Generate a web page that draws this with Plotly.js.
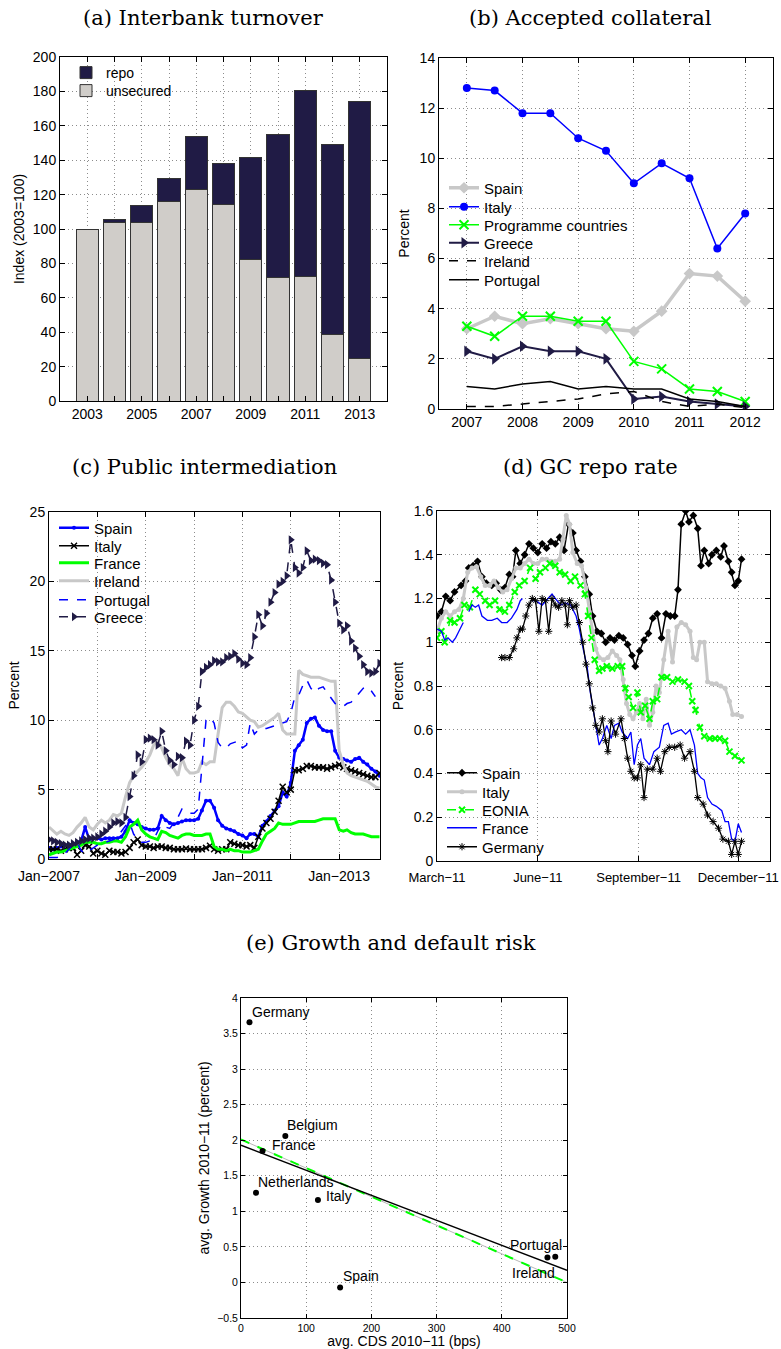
<!DOCTYPE html>
<html>
<head>
<meta charset="utf-8">
<script src="https://cdn.plot.ly/plotly-3.0.1.min.js"></script>
<style>html,body{margin:0;padding:0;background:#fff;}#chart{width:781px;height:1349px;}</style>
</head>
<body>
<div id="chart"></div>
<script>
// ---------- (a) Interbank turnover ----------
const turnoverYears = [2003,2004,2005,2006,2007,2008,2009,2010,2011,2012,2013];
const unsecured = [100,104,104,116,123,114.5,82,72,72.5,38.5,25];
const repo = [0,1.5,9.5,13.5,30.5,23.5,59.5,83,108,110.5,149];
const turnoverTickLabels = ['2003','','2005','','2007','','2009','','2011','','2013'];

// ---------- (b) Accepted collateral ----------
const collYears = [2007,2007.5,2008,2008.5,2009,2009.5,2010,2010.5,2011,2011.5,2012];
const collSpain = [3.2,3.7,3.4,3.6,3.4,3.2,3.1,3.9,5.4,5.3,4.3];
const collItaly = [12.8,12.7,11.8,11.8,10.8,10.3,9.0,9.8,9.2,6.4,7.8];
const collProgramme = [3.3,2.9,3.7,3.7,3.5,3.5,1.9,1.6,0.8,0.7,0.3];
const collGreece = [2.3,2.0,2.5,2.3,2.3,2.0,0.4,0.5,0.3,0.2,0.1];
const collIreland = [0.1,0.1,0.2,0.3,0.4,0.6,0.7,0.3,0.1,0.2,0.05];
const collPortugal = [0.9,0.8,1.0,1.1,0.8,0.9,0.8,0.8,0.4,0.3,0.1];

// ---------- (c) Public intermediation (monthly from Jan 2007) ----------
const pubStartYear = 2007;
const pubSpain = [0.8,0.7,0.8,0.9,1.0,1.0,1.1,1.2,1.3,2.3,1.4,1.5,
  1.5,1.4,1.5,1.5,1.5,1.5,1.6,2.0,2.8,2.6,2.5,2.3,
  2.2,2.1,2.1,2.2,3.1,2.8,2.6,2.5,2.6,2.7,2.8,2.8,
  2.8,2.9,3.5,4.2,4.2,3.7,2.8,2.4,2.2,2.1,2.0,1.8,
  1.7,1.5,1.8,1.8,1.6,2.4,2.7,3.1,3.5,3.8,4.8,4.5,
  5.5,7.8,8.2,8.6,9.8,10.1,10.2,9.6,9.3,9.2,9.2,7.8,
  7.3,7.2,7.1,7.0,7.2,7.3,7.0,6.8,6.5,6.3,6.0];
const pubItaly = [0.7,0.7,0.7,0.6,0.7,0.8,0.8,0.3,0.6,1.0,0.9,0.4,
  0.6,0.4,0.3,0.6,0.5,0.5,0.4,0.5,0.8,1.2,1.4,1.0,
  0.9,0.9,0.8,0.9,0.9,0.8,0.8,0.7,0.7,0.7,0.75,0.7,
  0.7,0.7,0.7,0.8,0.95,0.7,0.6,0.7,0.7,1.2,1.1,1.0,
  1.0,0.9,1.0,0.8,1.6,2.2,2.6,2.9,3.4,4.2,5.2,4.8,
  5.0,6.4,6.4,6.5,6.7,6.7,6.6,6.6,6.6,6.5,6.6,6.7,
  6.8,6.6,6.5,6.4,6.3,6.2,6.1,6.0,5.9,5.9,6.2];
const pubFrance = [0.3,0.4,0.5,0.5,0.6,0.7,0.8,0.9,1.0,1.2,1.2,1.2,
  1.1,1.1,1.2,1.2,1.3,1.3,1.2,1.6,2.3,2.5,2.8,2.1,
  1.8,1.6,1.5,1.4,2.0,1.9,1.7,1.6,1.5,1.7,1.8,1.8,
  1.7,1.7,1.7,1.8,1.8,0.9,0.7,0.7,0.6,0.7,0.6,0.6,
  0.5,0.5,0.5,0.6,0.7,1.3,1.8,2.0,2.2,2.6,2.5,2.5,
  2.5,2.6,2.7,2.7,2.7,2.7,2.7,2.8,2.9,2.9,2.9,2.9,
  2.1,2.0,2.1,1.9,1.8,1.8,1.8,1.7,1.6,1.6,1.6];
const pubIreland = [2.3,2.0,1.8,2.0,1.8,1.7,1.9,2.3,2.6,3.0,2.3,2.1,
  2.5,2.8,2.6,2.8,3.2,3.1,3.3,4.5,5.5,6.0,6.3,6.6,
  7.0,7.5,8.2,8.5,8.0,7.3,6.8,6.5,6.0,7.3,6.5,6.2,
  6.2,6.3,7.0,6.8,7.0,7.0,9.0,10.9,11.3,11.3,11.0,10.6,
  10.5,10.2,10.0,9.9,9.5,9.6,9.8,10.0,10.2,10.5,9.3,9.0,
  9.0,9.0,13.6,13.3,13.2,13.1,13.1,13.1,13.0,12.9,12.8,12.8,
  7.8,6.8,6.2,6.0,5.9,5.8,5.7,5.6,5.4,5.2,5.1];
const pubPortugal = [0.1,0.1,0.1,0.2,0.4,0.7,1.0,1.2,0.6,0.4,0.6,0.8,
  1.0,1.1,1.2,1.3,1.4,1.6,2.0,2.4,2.6,1.8,1.4,1.2,
  1.2,1.3,1.4,2.0,2.5,2.3,2.2,2.6,3.0,3.6,3.4,3.3,
  3.3,3.6,6.6,10.0,10.2,9.8,8.4,8.0,8.0,8.3,8.4,8.5,
  8.0,8.2,9.8,9.0,9.3,9.4,9.4,9.5,9.6,9.7,9.8,9.9,
  10.5,11.7,11.8,12.5,12.9,12.3,12.0,12.3,12.4,12.0,11.6,11.2,
  11.1,11.0,11.2,11.3,11.6,12.0,12.3,12.4,12.1,11.7];
const pubGreece = [1.4,1.3,1.2,1.1,1.0,1.0,1.1,1.2,1.3,1.4,1.5,1.5,
  1.6,1.8,2.0,2.3,2.6,2.7,2.6,3.0,4.5,6.0,7.5,7.0,
  8.6,8.7,8.6,8.2,9.2,7.8,7.1,6.8,7.4,7.3,8.5,8.2,
  10.0,11.0,13.5,13.8,14.0,14.3,14.2,14.2,14.5,14.6,14.8,14.4,
  14.1,14.0,14.5,16.0,17.6,16.8,17.7,18.5,19.2,19.8,20.0,20.4,
  23.0,21.0,20.6,21.0,22.2,21.5,21.6,21.5,21.3,21.2,20.1,18.5,
  17.0,16.5,16.8,15.7,15.2,14.6,14.0,13.5,13.4,13.5,14.1];
const pubTickVals = ['2007-01-01','2008-01-01','2009-01-01','2010-01-01','2011-01-01','2012-01-01','2013-01-01'];
const pubTickText = ['Jan\u22122007','','Jan\u22122009','','Jan\u22122011','','Jan\u22122013'];

// ---------- (d) GC repo rate (days since 1 March 2011) ----------
const repoSpainDays = [0,4,8,12,16,22,26,29,33,37,41,45,50,54,58,62,66,69,72,76,80,84,88,92,96,100,104,108,112,116,120,124,127,131,135,139,142,146,150,154,158,162,166,170,174,178,181,185,189,193,197,201,205,209,213,217,220,223,227,230,234,238,241,244,248,251,255,259,262,266,269,272,275,278];
const repoSpain = [1.12,1.14,1.21,1.19,1.23,1.26,1.28,1.34,1.35,1.37,1.30,1.27,1.26,1.27,1.24,1.25,1.31,1.30,1.42,1.36,1.40,1.45,1.43,1.41,1.45,1.43,1.46,1.45,1.48,1.42,1.54,1.50,1.42,1.37,1.30,1.22,1.12,1.05,1.04,1.00,1.02,1.01,1.03,1.02,0.99,0.94,0.89,0.96,1.01,1.04,1.11,1.13,1.02,1.13,1.12,1.12,1.24,1.54,1.60,1.55,1.58,1.52,1.35,1.42,1.36,1.40,1.42,1.39,1.44,1.37,1.32,1.26,1.28,1.38];
const repoItalyDays = [0,4,8,12,16,20,24,28,32,36,40,44,48,52,56,60,64,68,72,76,80,84,88,92,96,100,104,108,112,115,118,121,124,128,132,136,139,142,145,148,152,156,160,164,167,170,173,176,179,182,185,188,191,194,197,200,203,207,211,215,219,223,227,231,234,237,240,244,247,251,255,259,263,267,270,274,278];
const repoItaly = [1.05,1.11,1.14,1.12,1.14,1.15,1.20,1.32,1.34,1.345,1.30,1.26,1.26,1.28,1.25,1.23,1.24,1.29,1.34,1.34,1.36,1.38,1.36,1.36,1.38,1.38,1.37,1.37,1.38,1.47,1.58,1.54,1.41,1.36,1.35,1.25,1.14,1.05,0.97,0.93,0.92,0.93,0.96,0.94,0.92,0.83,0.72,0.67,0.65,0.68,0.72,0.65,0.74,0.62,0.68,0.80,0.77,0.92,1.05,0.91,1.07,1.09,1.08,1.05,0.93,0.92,1.00,1.00,0.82,0.81,0.81,0.80,0.79,0.73,0.67,0.67,0.66];
const repoEoniaDays = [0,4,7,12,16,21,25,30,35,39,44,48,53,57,62,66,71,75,80,85,90,94,99,103,108,112,117,122,126,131,135,138,141,144,148,151,155,160,165,169,172,175,179,183,186,190,194,197,201,205,210,215,220,226,230,233,236,240,244,249,254,258,263,267,272,278];
const repoEonia = [1.02,1.05,1.00,1.10,1.09,1.11,1.17,1.16,1.24,1.22,1.19,1.17,1.19,1.15,1.14,1.17,1.23,1.26,1.28,1.34,1.29,1.32,1.34,1.36,1.35,1.32,1.31,1.28,1.30,1.26,1.22,1.12,1.02,0.92,0.87,0.88,0.89,0.88,0.89,0.89,0.79,0.75,0.70,0.77,0.68,0.71,0.65,0.73,0.74,0.84,0.84,0.82,0.83,0.82,0.80,0.73,0.69,0.61,0.57,0.56,0.56,0.56,0.55,0.50,0.48,0.46];
const repoFranceDays = [0,4,7,10,14,17,20,24,26,29,32,35,38,41,46,50,55,59,64,68,73,76,78,82,86,90,96,101,105,108,113,117,122,127,130,133,137,140,143,146,148,151,155,159,162,166,169,174,177,180,183,186,189,194,198,203,207,211,214,218,223,227,231,235,238,241,244,247,251,255,260,263,266,269,272,275,278];
const repoFrance = [1.06,1.05,1.01,1.02,1.00,1.02,1.05,1.09,null,1.14,1.17,1.16,1.17,1.12,1.10,1.10,1.11,1.09,1.09,1.11,1.15,1.19,1.20,null,1.19,1.19,1.17,1.20,1.22,1.20,1.17,1.18,1.17,1.12,1.06,0.98,0.89,0.77,0.68,0.59,0.53,0.56,0.62,0.56,0.62,0.63,0.59,0.56,0.59,0.44,0.53,0.56,0.47,0.44,0.50,0.52,0.62,0.63,0.58,0.59,0.60,0.58,0.60,0.53,0.40,0.38,0.37,0.29,0.26,0.25,0.23,0.18,0.18,0.10,0.09,0.17,0.13];
const repoGermanyDays = [59,62,66,70,73,76,78,81,84,87,90,93,96,99,102,105,108,111,114,117,119,121,124,127,130,133,136,139,142,145,148,151,154,156,159,163,168,171,174,177,180,183,186,189,192,197,201,204,208,212,217,222,226,231,235,238,243,247,252,257,261,266,269,272,275,278];
const repoGermany = [0.93,0.93,0.93,0.97,1.02,1.06,1.06,1.12,1.17,1.20,1.19,1.05,1.20,1.19,1.05,1.20,1.17,1.16,1.19,1.17,1.08,1.19,1.16,1.17,1.09,1.00,0.90,0.81,0.70,0.62,0.59,0.65,0.55,0.50,0.64,0.58,0.65,0.56,0.47,0.41,0.38,0.38,0.44,0.29,0.42,0.42,0.47,0.41,0.50,0.52,0.52,0.53,0.47,0.50,0.41,0.29,0.26,0.21,0.18,0.15,0.10,0.09,0.03,0.09,0.03,0.09];
const repoTickVals = ['2011-03-01','2011-06-01','2011-09-01','2011-12-01'];
const repoTickText = ['March\u221211','June\u221211','September\u221211','December\u221211'];

// ---------- (e) Growth and default risk ----------
const cdsCountries = ['Germany','Belgium','France','Netherlands','Italy','Spain','Portugal','Ireland'];
const cdsValues = [13,68,33,23,118,152,470,482];
const growthValues = [3.66,2.06,1.85,1.26,1.16,-0.07,0.35,0.36];
const fitX = [0,500];
const fitBlack = [1.93,0.17];
const fitGreen = [2.01,0.0];

// ---------- helpers ----------
function monthDates(startYear, n){
  const out=[];
  for(let i=0;i<n;i++){const y=startYear+Math.floor(i/12), m=i%12+1; out.push(y+'-'+String(m).padStart(2,'0')+'-01');}
  return out;
}
function dayDates(days){
  return days.map(d=>new Date(Date.UTC(2011,2,1+d)).toISOString().slice(0,10));
}

const W=781,H=1349;
const px=v=>v/W, py=v=>1-v/H;

const NAVY='#201b45', GRAY='#c8c8c8', BLUE='#0000ff', GREEN='#00ff00';
const FONT='Liberation Sans, Arial, Helvetica, sans-serif';
const SERIF='DejaVu Serif, Liberation Serif, serif';
const GRIDDASH='1px,3px';

function axisBase(extra){
  return Object.assign({
    showline:true, linecolor:'#000', linewidth:1, mirror:'ticks',
    ticks:'inside', ticklen:5, tickcolor:'#000', tickwidth:1,
    showgrid:true, gridcolor:'#8c8c8c', griddash:GRIDDASH, gridwidth:1,
    zeroline:false, tickfont:{family:FONT,size:14,color:'#000'},
    fixedrange:true
  }, extra);
}

// one legend per entry so rows can sit at the reference spacing
const layoutLegends={};
let legendCount=0;
function legendAt(x,y,size){
  legendCount++;
  const key = legendCount===1 ? 'legend' : 'legend'+legendCount;
  layoutLegends[key]={x:px(x),y:py(y),xanchor:'left',yanchor:'middle',bgcolor:'rgba(0,0,0,0)',borderwidth:0,
    font:{family:FONT,size:size||15,color:'#000'},itemwidth:30};
  return key;
}

const traces=[];
// (a)
traces.push({type:'bar', x:turnoverYears, y:unsecured, name:'unsecured', xaxis:'x', yaxis:'y',
  marker:{color:'#d0cdc9', line:{color:'#333',width:1}}, width:0.82, legend:legendAt(66,91,14)});
traces.push({type:'bar', x:turnoverYears, y:repo, name:'repo', xaxis:'x', yaxis:'y',
  marker:{color:NAVY, line:{color:'#333',width:1}}, width:0.82, legend:legendAt(66,73,14)});

// (b)
const bx=444;
traces.push({type:'scatter',mode:'lines+markers',x:collYears,y:collSpain,name:'Spain',xaxis:'x2',yaxis:'y2',legend:legendAt(bx,188),
  line:{color:GRAY,width:3.5},marker:{symbol:'diamond',size:9,color:GRAY}});
traces.push({type:'scatter',mode:'lines+markers',x:collYears,y:collItaly,name:'Italy',xaxis:'x2',yaxis:'y2',legend:legendAt(bx,207),
  line:{color:BLUE,width:1.5},marker:{symbol:'circle',size:8,color:BLUE}});
traces.push({type:'scatter',mode:'lines+markers',x:collYears,y:collProgramme,name:'Programme countries',xaxis:'x2',yaxis:'y2',legend:legendAt(bx,225),
  line:{color:GREEN,width:1.5},marker:{symbol:'x-thin-open',size:9,color:GREEN,line:{color:GREEN,width:2}}});
traces.push({type:'scatter',mode:'lines+markers',x:collYears,y:collGreece,name:'Greece',xaxis:'x2',yaxis:'y2',legend:legendAt(bx,243),
  line:{color:NAVY,width:2},marker:{symbol:'triangle-right',size:10,color:NAVY}});
traces.push({type:'scatter',mode:'lines',x:collYears,y:collIreland,name:'Ireland',xaxis:'x2',yaxis:'y2',legend:legendAt(bx,261),
  line:{color:'#000',width:1.5,dash:'dash'}});
traces.push({type:'scatter',mode:'lines',x:collYears,y:collPortugal,name:'Portugal',xaxis:'x2',yaxis:'y2',legend:legendAt(bx,280),
  line:{color:'#000',width:1.5}});

// (c)
const cx=54;
traces.push({type:'scatter',mode:'lines+markers',x:monthDates(pubStartYear,pubSpain.length),y:pubSpain,name:'Spain',xaxis:'x3',yaxis:'y3',legend:legendAt(cx,528),
  line:{color:BLUE,width:2.5},marker:{symbol:'circle',size:4,color:BLUE}});
traces.push({type:'scatter',mode:'lines+markers',x:monthDates(pubStartYear,pubItaly.length),y:pubItaly,name:'Italy',xaxis:'x3',yaxis:'y3',legend:legendAt(cx,546),
  line:{color:'#000',width:1.5},marker:{symbol:'x-thin-open',size:6,color:'#000',line:{color:'#000',width:1.5}}});
traces.push({type:'scatter',mode:'lines',x:monthDates(pubStartYear,pubFrance.length),y:pubFrance,name:'France',xaxis:'x3',yaxis:'y3',legend:legendAt(cx,563),
  line:{color:GREEN,width:3}});
traces.push({type:'scatter',mode:'lines',x:monthDates(pubStartYear,pubIreland.length),y:pubIreland,name:'Ireland',xaxis:'x3',yaxis:'y3',legend:legendAt(cx,581),
  line:{color:GRAY,width:3}});
traces.push({type:'scatter',mode:'lines',x:monthDates(pubStartYear,pubPortugal.length),y:pubPortugal,name:'Portugal',xaxis:'x3',yaxis:'y3',legend:legendAt(cx,600),
  line:{color:BLUE,width:1.5,dash:'dash'}});
traces.push({type:'scatter',mode:'lines+markers',x:monthDates(pubStartYear,pubGreece.length),y:pubGreece,name:'Greece',xaxis:'x3',yaxis:'y3',legend:legendAt(cx,617),
  line:{color:NAVY,width:1.5,dash:'dash'},marker:{symbol:'triangle-right',size:8,color:NAVY}});

// (d)
const dx=442;
traces.push({type:'scatter',mode:'lines+markers',x:dayDates(repoSpainDays),y:repoSpain,name:'Spain',xaxis:'x4',yaxis:'y4',legend:legendAt(dx,773),
  line:{color:'#000',width:1.5},marker:{symbol:'diamond',size:6,color:'#000'}});
traces.push({type:'scatter',mode:'lines+markers',x:dayDates(repoItalyDays),y:repoItaly,name:'Italy',xaxis:'x4',yaxis:'y4',legend:legendAt(dx,792),
  line:{color:GRAY,width:3},marker:{symbol:'circle',size:5,color:GRAY}});
traces.push({type:'scatter',mode:'lines+markers',x:dayDates(repoEoniaDays),y:repoEonia,name:'EONIA',xaxis:'x4',yaxis:'y4',legend:legendAt(dx,810),
  line:{color:GREEN,width:1.5,dash:'dash'},marker:{symbol:'x-thin-open',size:6,color:GREEN,line:{color:GREEN,width:2}}});
traces.push({type:'scatter',mode:'lines',x:dayDates(repoFranceDays),y:repoFrance,name:'France',xaxis:'x4',yaxis:'y4',legend:legendAt(dx,828),
  line:{color:BLUE,width:1.3},connectgaps:false});
traces.push({type:'scatter',mode:'lines+markers',x:dayDates(repoGermanyDays),y:repoGermany,name:'Germany',xaxis:'x4',yaxis:'y4',legend:legendAt(dx,847),
  line:{color:'#000',width:1.3},marker:{symbol:'asterisk-open',size:6,color:'#000',line:{color:'#000',width:1}}});

// (e)
traces.push({type:'scatter',mode:'lines',x:fitX,y:fitGreen,xaxis:'x5',yaxis:'y5',showlegend:false,
  line:{color:'#b8b8b8',width:1}});
traces.push({type:'scatter',mode:'lines',x:fitX,y:fitGreen,xaxis:'x5',yaxis:'y5',showlegend:false,
  line:{color:GREEN,width:2,dash:'dash'}});
traces.push({type:'scatter',mode:'lines',x:fitX,y:fitBlack,xaxis:'x5',yaxis:'y5',showlegend:false,
  line:{color:'#000',width:1.5}});
traces.push({type:'scatter',mode:'markers',x:cdsValues,y:growthValues,text:cdsCountries,xaxis:'x5',yaxis:'y5',showlegend:false,
  marker:{symbol:'circle',size:6,color:'#000'}});

// label offsets (style, pixels)
const labelShift = {Germany:[1,10],Belgium:[0,11],France:[7,6],Netherlands:[0,11],Italy:[6,4],Spain:[1,11],Portugal:[-39,13],Ireland:[-45,-16]};

const annotations=[];
function title(txt,cx,cy){
  annotations.push({text:txt,x:px(cx),y:py(cy),xref:'paper',yref:'paper',xanchor:'center',yanchor:'middle',
    showarrow:false,font:{family:SERIF,size:21,color:'#000'}});
}
title('(a) Interbank turnover',203,18);
title('(b) Accepted collateral',590,18);
title('(c) Public intermediation',205,467);
title('(d) GC repo rate',590,467);
title('(e) Growth and default risk',391,943);
cdsCountries.forEach((c,i)=>{
  const s=labelShift[c];
  annotations.push({text:c,x:cdsValues[i],y:growthValues[i],xref:'x5',yref:'y5',xanchor:'left',yanchor:'middle',
    xshift:s[0],yshift:s[1],showarrow:false,font:{family:FONT,size:14,color:'#000'}});
});

const layout=Object.assign({
  width:W,height:H,margin:{l:0,r:0,t:0,b:0},paper_bgcolor:'#fff',plot_bgcolor:'#fff',
  font:{family:FONT,size:14,color:'#000'},
  barmode:'stack', showlegend:true,
  xaxis:axisBase({domain:[px(60),px(387)],range:[2002,2014],tickvals:turnoverYears,ticktext:turnoverTickLabels,anchor:'y'}),
  yaxis:axisBase({domain:[py(401),py(57)],range:[0,200],dtick:20,anchor:'x',
    title:{text:'Index (2003=100)',font:{family:FONT,size:14},standoff:4}}),
  xaxis2:axisBase({domain:[px(439),px(773)],range:[2006.5,2012.5],dtick:1,anchor:'y2'}),
  yaxis2:axisBase({domain:[py(409),py(58)],range:[0,14],dtick:2,anchor:'x2',
    title:{text:'Percent',font:{family:FONT,size:14},standoff:6}}),
  xaxis3:axisBase({domain:[px(49),px(380)],type:'date',range:['2007-01-01','2013-11-05'],tickvals:pubTickVals,ticktext:pubTickText,anchor:'y3',ticklabelstandoff:4}),
  yaxis3:axisBase({domain:[py(859),py(512)],range:[0,25],dtick:5,anchor:'x3',
    title:{text:'Percent',font:{family:FONT,size:14},standoff:6}}),
  xaxis4:axisBase({domain:[px(437),px(770)],type:'date',range:['2011-03-01','2011-12-30'],tickvals:repoTickVals,ticktext:repoTickText,anchor:'y4',ticklabelstandoff:4,tickfont:{family:FONT,size:13,color:'#000'}}),
  yaxis4:axisBase({domain:[py(861),py(511)],range:[0,1.6],dtick:0.2,anchor:'x4',
    title:{text:'Percent',font:{family:FONT,size:14},standoff:6}}),
  xaxis5:axisBase({domain:[px(241),px(567)],range:[0,500],dtick:100,anchor:'y5',tickfont:{family:FONT,size:10.5,color:'#000'},ticklen:4,
    title:{text:'avg. CDS 2010\u221211 (bps)',font:{family:FONT,size:14},standoff:2}}),
  yaxis5:axisBase({domain:[py(1318),py(998)],range:[-0.5,4],dtick:0.5,anchor:'x5',tickfont:{family:FONT,size:10.5,color:'#000'},ticklen:4,
    title:{text:'avg. Growth 2010\u221211 (percent)',font:{family:FONT,size:14},standoff:4}}),
  annotations:annotations
}, layoutLegends);

Plotly.newPlot('chart',traces,layout,{displayModeBar:false,staticPlot:true});
</script>
</body>
</html>
